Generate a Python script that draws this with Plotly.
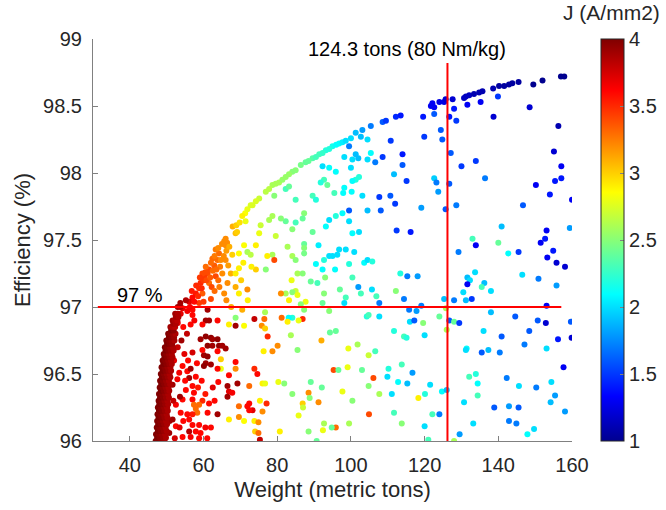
import plotly.graph_objects as go

# ---------------- data (weight [t], efficiency [%], J [A/mm2]) ----------------
frontier_points = [
    (66.0, 97.51, 3.2), (66.4, 97.48, 3.2), (67.9, 97.60, 3.1), (68.7, 97.55, 3.05), (68.9, 97.61, 3.0),
    (69.1, 97.56, 3.0), (71.3, 97.70, 2.85), (71.4, 97.64, 2.8), (71.9, 97.73, 2.8), (72.8, 97.76, 2.75),
    (73.3, 97.76, 2.75), (75.1, 97.81, 2.7), (76.9, 97.86, 2.65), (78.7, 97.91, 2.6), (80.5, 97.93, 2.6),
    (82.3, 97.97, 2.55), (84.1, 98.01, 2.5), (86.4, 98.06, 2.45), (87.7, 98.08, 2.4), (89.6, 98.11, 2.35),
    (91.4, 98.14, 2.3), (93.2, 98.17, 2.2), (95.0, 98.20, 2.15), (96.8, 98.22, 2.1), (100.0, 98.26, 2.0),
    (101.3, 98.30, 1.9), (103.1, 98.32, 1.8), (105.4, 98.35, 1.7), (108.6, 98.38, 1.6), (109.5, 98.39, 1.5),
    (112.2, 98.42, 1.45), (113.5, 98.43, 1.4), (121.7, 98.50, 1.3), (122.1, 98.52, 1.3), (122.6, 98.49, 1.3),
    (124.0, 98.53, 1.25), (125.3, 98.53, 1.25), (125.7, 98.55, 1.2), (127.6, 98.55, 1.2), (130.7, 98.56, 1.15),
    (131.2, 98.57, 1.15), (132.1, 98.58, 1.15), (133.4, 98.59, 1.1), (134.8, 98.60, 1.1), (135.7, 98.61, 1.1),
    (138.6, 98.63, 1.1), (140.2, 98.65, 1.05), (141.6, 98.65, 1.05), (142.9, 98.66, 1.05), (143.8, 98.67, 1.05),
    (145.5, 98.68, 1.05), (149.5, 98.66, 1.0), (152.0, 98.69, 1.0), (157.0, 98.72, 1.0), (157.9, 98.72, 1.0),
    (85.0, 98.02, 2.5), (88.5, 98.09, 2.4), (90.5, 98.12, 2.3), (92.3, 98.15, 2.25), (94.1, 98.18, 2.2),
    (96.0, 98.21, 2.1), (97.7, 98.23, 2.05), (98.6, 98.24, 2.0), (83.2, 97.99, 2.55), (81.4, 97.95, 2.55),
    (79.6, 97.92, 2.6), (77.8, 97.88, 2.65), (74.2, 97.79, 2.75), (70.5, 97.68, 2.9), (69.8, 97.63, 2.95),
]

upper_points = [
    (148.5, 98.49, 1.2), (138.7, 98.42, 1.2), (131.6, 98.51, 1.3), (135.2, 98.53, 1.3), (139.9, 98.57, 1.5),
    (128.0, 98.48, 1.4), (126.7, 98.42, 1.4), (128.6, 98.39, 1.5), (122.6, 98.44, 1.6), (119.6, 98.42, 1.4),
    (119.9, 98.27, 1.5), (124.4, 98.32, 1.6), (124.8, 98.25, 1.6), (127.1, 98.15, 1.6), (133.9, 98.09, 1.5),
    (130.0, 98.05, 1.5), (156.3, 98.35, 1.1), (155.1, 98.16, 1.2), (157.1, 98.05, 1.3), (157.1, 97.96, 1.4),
    (155.4, 97.94, 1.4), (150.2, 97.91, 1.3), (154.0, 97.84, 1.4), (160.0, 97.80, 1.3), (122.6, 97.96, 1.95),
    (123.2, 97.93, 1.7), (123.7, 97.86, 1.8), (126.7, 97.92, 1.6), (136.4, 97.96, 1.7), (119.1, 97.74, 1.8),
    (125.7, 97.73, 1.6), (128.6, 97.76, 1.7), (146.7, 97.76, 1.6), (140.9, 97.60, 1.9), (153.1, 97.57, 1.3),
    (159.4, 97.59, 1.8), (152.7, 97.51, 1.4), (133.0, 97.51, 2.3), (110.8, 98.24, 1.5), (108.6, 98.12, 1.5),
    (106.6, 98.08, 1.7), (114.0, 98.14, 1.4), (114.0, 98.06, 1.6), (115.1, 97.94, 1.5), (111.7, 97.99, 1.9),
    (107.7, 97.82, 1.5), (112.0, 97.77, 1.5), (108.1, 97.72, 1.6), (112.4, 97.57, 1.5), (116.2, 97.56, 1.4),
    (104.5, 97.72, 1.9), (99.5, 97.72, 1.6), (103.1, 97.83, 2.0), (102.2, 97.97, 2.2), (101.3, 97.95, 2.2),
    (100.4, 97.94, 2.1), (100.0, 98.04, 2.0), (100.4, 98.10, 2.0), (101.3, 98.14, 1.9), (102.0, 98.11, 1.9),
    (104.5, 98.10, 2.0), (105.4, 98.15, 2.1), (104.5, 98.25, 2.0), (102.7, 98.27, 1.9), (99.5, 98.20, 1.7),
    (98.2, 98.12, 2.0), (95.9, 98.01, 2.1), (94.1, 98.04, 2.1), (92.3, 98.05, 2.0), (92.7, 97.95, 2.3),
    (93.6, 97.91, 2.4), (91.8, 97.93, 2.2), (98.2, 97.89, 2.1), (97.9, 97.85, 2.1), (100.2, 97.86, 2.1),
    (95.5, 97.85, 2.3), (89.6, 97.83, 2.3), (90.5, 97.80, 2.2), (87.3, 97.70, 2.5), (86.9, 97.66, 2.4),
    (85.0, 97.63, 2.3), (82.3, 97.64, 2.4), (81.0, 97.66, 2.5), (78.7, 97.68, 2.6), (77.8, 97.65, 2.6),
    (75.5, 97.61, 2.7), (75.1, 97.55, 2.8), (79.6, 97.53, 2.7), (84.1, 97.58, 2.5), (89.6, 97.56, 2.4),
    (93.2, 97.60, 2.1), (94.1, 97.65, 2.0), (97.7, 97.70, 2.1), (95.9, 97.68, 2.2), (100.4, 97.55, 2.1),
    (102.2, 97.56, 2.0), (99.5, 97.64, 2.0), (82.3, 97.88, 2.3), (83.2, 97.90, 2.4), (79.2, 97.83, 2.5),
    (85.0, 97.80, 2.3), (110.7, 97.83, 1.6),
]

middle_points = [
    (91.2, 97.46, 2.05), (87.3, 97.47, 2.4), (87.3, 97.44, 2.5), (87.3, 97.40, 2.45), (84.1, 97.38, 2.6),
    (85.0, 97.35, 2.5), (82.8, 97.45, 2.6), (78.7, 97.39, 2.6), (77.3, 97.38, 2.9), (74.2, 97.46, 2.9),
    (74.2, 97.28, 3.0), (79.2, 97.35, 3.4), (76.9, 97.28, 2.5), (85.5, 97.25, 2.6), (86.9, 97.25, 2.5),
    (89.1, 97.19, 2.4), (90.9, 97.18, 2.3), (93.0, 97.22, 2.5), (90.5, 97.32, 2.1), (92.3, 97.28, 2.1),
    (92.7, 97.35, 2.2), (94.1, 97.38, 2.0), (95.0, 97.38, 2.0), (96.3, 97.39, 2.0), (96.8, 97.43, 2.0),
    (98.6, 97.43, 2.0), (100.9, 97.41, 2.0), (99.5, 97.32, 2.2), (95.7, 97.28, 2.1), (103.6, 97.33, 2.1),
    (104.5, 97.35, 2.0), (105.8, 97.34, 2.2), (100.4, 97.22, 2.3), (102.0, 97.15, 1.8), (102.7, 97.10, 2.3),
    (98.6, 97.07, 2.3), (98.2, 97.03, 2.0), (97.0, 97.13, 2.4), (92.7, 97.10, 2.5), (92.3, 97.03, 2.4),
    (94.1, 96.97, 2.5), (87.7, 97.04, 2.8), (86.4, 97.02, 2.5), (87.3, 96.98, 2.5), (86.9, 96.91, 3.5),
    (85.8, 96.90, 2.8), (84.1, 96.92, 2.2), (83.1, 96.92, 2.1), (81.2, 96.92, 3.3), (82.8, 96.89, 2.9),
    (85.0, 97.12, 2.7), (82.3, 97.10, 2.6), (84.1, 97.11, 2.5), (83.2, 97.05, 2.9), (81.0, 97.10, 3.2),
    (85.5, 97.09, 2.8), (83.9, 97.20, 2.8), (76.7, 96.96, 2.6), (76.5, 96.91, 3.3), (73.8, 96.91, 3.8),
    (75.8, 96.86, 3.2), (76.7, 96.84, 3.0), (77.4, 96.78, 3.5), (83.7, 96.79, 2.6), (80.1, 96.71, 3.2),
    (78.7, 96.67, 3.2), (76.3, 96.67, 2.9), (85.5, 96.68, 2.5), (92.0, 96.75, 3.1), (94.3, 96.81, 2.4),
    (95.9, 96.82, 2.4), (99.3, 96.69, 2.8), (101.8, 96.72, 2.6), (104.8, 96.64, 2.7), (106.6, 96.67, 2.3),
    (111.7, 96.82, 2.2), (114.4, 96.78, 2.3), (115.1, 96.77, 2.2), (107.7, 96.93, 2.0), (104.3, 96.93, 2.2),
    (104.8, 96.94, 2.3), (115.8, 96.98, 1.7), (116.0, 96.89, 2.0), (115.3, 97.23, 1.7), (113.4, 97.25, 2.2),
    (114.4, 97.06, 1.7), (112.2, 97.12, 2.5), (107.7, 97.03, 1.7), (105.7, 97.13, 2.0), (106.9, 97.08, 2.3),
    (74.6, 96.50, 3.6), (76.0, 96.43, 2.9), (76.7, 96.43, 2.8), (80.3, 96.44, 2.8), (81.9, 96.43, 2.5),
    (77.1, 96.28, 3.5), (76.0, 96.22, 3.2), (75.3, 96.30, 2.9), (73.3, 96.23, 3.7), (73.8, 96.15, 2.9),
    (74.9, 96.14, 3.2), (74.0, 96.07, 3.0), (74.9, 96.06, 3.3), (75.3, 96.01, 3.8), (80.7, 96.07, 2.9),
    (84.1, 96.35, 2.5), (86.9, 96.28, 3.0), (87.0, 96.25, 2.7), (88.5, 96.36, 3.2), (88.8, 96.32, 2.5),
    (89.1, 96.44, 2.4), (85.8, 96.19, 2.8), (91.2, 96.29, 3.2), (92.1, 96.40, 2.4), (95.3, 96.53, 3.4),
    (96.6, 96.53, 2.4), (99.1, 96.55, 2.8), (103.0, 96.53, 2.4), (106.1, 96.47, 3.4), (104.8, 96.41, 2.5),
    (110.2, 96.54, 2.2), (109.9, 96.48, 2.0), (112.8, 96.44, 2.1), (113.8, 96.57, 2.3), (115.3, 96.43, 1.9),
    (111.1, 96.35, 2.0), (107.7, 96.35, 2.6), (97.7, 96.37, 2.8), (100.4, 96.30, 2.5), (104.9, 96.20, 3.4),
    (111.7, 96.21, 2.3), (113.8, 96.13, 2.5), (99.5, 96.13, 2.6), (95.9, 96.10, 3.3), (94.8, 96.10, 2.4),
    (92.7, 96.13, 2.6), (92.4, 96.08, 2.8), (88.5, 96.07, 2.5), (90.7, 96.00, 2.4), (73.8, 96.54, 3.5),
]

right_points = [
    (133.9, 97.46, 1.3), (140.0, 97.48, 2.4), (129.2, 97.41, 1.7), (142.7, 97.40, 2.1), (145.5, 97.41, 1.5),
    (151.5, 97.48, 1.3), (154.9, 97.42, 1.4), (153.3, 97.37, 1.3), (155.8, 97.33, 1.2), (158.1, 97.30, 1.2),
    (118.1, 97.23, 1.8), (131.6, 97.22, 1.9), (132.3, 97.20, 2.0), (133.7, 97.26, 2.0), (131.6, 97.17, 1.3),
    (136.2, 97.18, 1.9), (135.5, 97.15, 2.3), (138.0, 97.12, 2.0), (130.5, 97.11, 2.0), (125.3, 97.06, 1.9),
    (128.0, 97.05, 1.7), (131.2, 97.05, 1.9), (132.8, 97.06, 1.5), (146.5, 97.24, 2.0), (150.9, 97.21, 1.7),
    (155.8, 97.16, 1.8), (153.1, 97.01, 1.3), (119.1, 97.01, 1.7), (117.8, 96.97, 1.8), (117.2, 96.90, 1.6),
    (119.6, 96.88, 2.5), (124.0, 96.93, 2.4), (125.8, 96.99, 2.6), (126.7, 96.90, 1.6), (128.0, 96.89, 2.4),
    (129.4, 96.88, 1.5), (126.0, 96.83, 2.6), (138.0, 96.96, 1.9), (144.6, 96.93, 1.6), (150.7, 96.90, 1.6),
    (152.9, 96.88, 1.2), (159.7, 96.89, 1.6), (148.4, 96.82, 1.6), (136.0, 96.82, 2.0), (120.0, 96.79, 2.0),
    (140.9, 96.78, 1.6), (156.2, 96.76, 1.4), (159.9, 96.77, 1.2), (131.4, 96.69, 2.1), (131.2, 96.68, 2.0),
    (135.5, 96.66, 1.6), (137.3, 96.68, 1.9), (140.4, 96.66, 1.7), (147.1, 96.72, 1.7), (153.1, 96.69, 2.0),
    (157.7, 96.55, 1.3), (116.7, 96.51, 1.8), (132.1, 96.48, 2.3), (133.9, 96.50, 2.2), (134.4, 96.43, 2.1),
    (142.3, 96.47, 1.7), (145.6, 96.41, 2.0), (150.3, 96.40, 1.7), (154.4, 96.44, 2.0), (155.4, 96.34, 1.8),
    (154.2, 96.29, 1.9), (158.1, 96.22, 1.8), (121.5, 96.42, 2.0), (120.1, 96.35, 2.2), (124.7, 96.37, 2.1),
    (126.0, 96.38, 1.9), (118.3, 96.32, 2.9), (134.4, 96.34, 2.3), (130.7, 96.29, 2.0), (138.9, 96.25, 1.6),
    (142.9, 96.26, 1.8), (145.5, 96.25, 1.6), (122.1, 96.20, 2.3), (124.0, 96.20, 1.7), (133.2, 96.13, 2.0),
    (142.9, 96.15, 1.7), (144.9, 96.13, 1.7), (149.7, 96.09, 2.0), (147.9, 96.05, 2.1), (120.0, 96.11, 2.0),
    (129.5, 96.05, 1.8), (121.0, 96.01, 2.3), (128.0, 96.00, 2.6),
]

left_points = [
    (65.6, 97.49, 3.2), (66.0, 97.46, 3.2), (64.2, 97.40, 3.3), (63.8, 97.35, 3.3), (62.9, 97.31, 3.35),
    (61.5, 97.28, 3.4), (61.1, 97.25, 3.4), (60.2, 97.23, 3.45), (59.2, 97.18, 3.5), (58.8, 97.14, 3.5),
    (57.9, 97.10, 3.55), (57.0, 97.07, 3.6), (56.1, 97.04, 3.7), (55.2, 97.05, 3.85), (54.3, 96.99, 3.7),
    (55.6, 96.97, 3.65), (57.0, 96.98, 3.6), (58.8, 97.03, 3.45), (61.1, 96.98, 3.9), (59.7, 97.10, 3.35),
    (61.5, 97.18, 3.3), (63.3, 97.23, 3.4), (65.1, 97.25, 3.2), (64.7, 97.35, 3.2), (66.7, 97.31, 3.15),
    (67.4, 97.25, 3.1), (68.7, 97.25, 2.9), (66.5, 97.18, 3.2), (65.6, 97.10, 3.2), (68.7, 97.15, 3.1),
    (69.6, 97.10, 2.9), (67.8, 97.39, 3.0), (69.6, 97.40, 2.85), (71.9, 97.41, 2.6), (72.8, 97.39, 2.65),
    (71.0, 97.46, 2.85), (69.6, 97.29, 2.9), (71.9, 97.13, 3.2), (63.3, 97.43, 3.25), (62.4, 97.36, 3.3),
    (60.6, 97.30, 3.3), (59.7, 97.25, 3.4), (68.7, 96.92, 2.5), (71.0, 96.86, 2.85), (66.9, 96.87, 2.9),
    (68.7, 96.86, 3.9), (63.8, 96.90, 3.6), (60.6, 96.90, 3.9), (61.5, 96.90, 3.9), (59.7, 96.87, 3.6),
    (57.0, 96.94, 3.6), (62.0, 97.33, 3.3), (63.0, 97.38, 3.25), (64.0, 97.44, 3.2), (65.0, 97.47, 3.2),
    (60.5, 97.26, 3.4), (58.0, 97.16, 3.5), (56.8, 97.12, 3.55), (62.5, 97.27, 3.3), (64.5, 97.30, 3.25),
    (60.0, 97.20, 3.45), (59.0, 97.22, 3.45), (59.5, 97.14, 3.5), (60.8, 97.20, 3.4), (61.8, 97.22, 3.35),
    (62.2, 97.15, 3.4), (63.5, 97.28, 3.3), (64.0, 97.20, 3.3), (65.5, 97.38, 3.2), (66.2, 97.42, 3.15),
    (67.0, 97.45, 3.1), (66.0, 97.35, 3.2), (58.5, 97.08, 3.5), (57.5, 97.04, 3.6), (56.3, 97.00, 3.65),
    (60.0, 97.04, 3.45), (62.0, 97.06, 3.4), (63.0, 97.12, 3.3), (64.3, 97.15, 3.25), (66.2, 97.05, 3.2),
    (67.5, 97.00, 3.1), (70.2, 97.20, 3.0), (70.8, 97.33, 2.9), (73.0, 97.30, 2.9), (72.0, 97.05, 2.9),
    (70.5, 96.98, 3.1),
    (60.6, 96.78, 3.95), (62.0, 96.77, 3.95), (62.4, 96.76, 3.9), (63.8, 96.76, 3.95), (61.1, 96.71, 3.95),
    (62.4, 96.71, 3.9), (64.2, 96.71, 3.95), (66.0, 96.69, 3.9), (65.1, 96.71, 3.9), (60.1, 96.64, 3.9),
    (61.1, 96.63, 3.95), (60.6, 96.58, 3.9), (60.1, 96.56, 3.95), (62.0, 96.57, 3.9), (63.8, 96.67, 3.6),
    (64.7, 96.61, 3.0), (64.7, 96.54, 2.8), (63.8, 96.54, 3.6), (68.7, 96.59, 3.6), (68.7, 96.54, 3.2),
    (66.9, 96.49, 3.6), (64.0, 96.44, 3.6), (66.5, 96.41, 3.9), (66.9, 96.37, 3.7), (69.2, 96.43, 3.9),
    (66.5, 96.33, 3.9), (67.8, 96.36, 3.65), (72.4, 96.28, 3.6), (71.9, 96.26, 3.6), (72.4, 96.23, 3.6),
    (69.6, 96.26, 3.3), (72.4, 96.41, 3.3), (63.8, 96.20, 3.9), (66.9, 96.16, 2.9), (69.6, 96.18, 3.2),
    (71.0, 96.15, 2.85), (61.1, 96.21, 3.6), (59.7, 96.30, 3.5), (57.0, 96.31, 3.6), (57.4, 96.27, 3.3),
    (57.9, 96.24, 3.3), (58.8, 96.27, 3.3), (58.3, 96.21, 3.3), (57.0, 96.20, 3.55), (55.6, 96.20, 3.6),
    (56.1, 96.16, 3.6), (57.0, 96.12, 3.6), (58.8, 96.12, 3.6), (57.9, 96.07, 3.6), (59.2, 96.06, 3.6),
    (56.1, 96.07, 3.85), (56.5, 96.03, 3.65), (58.8, 96.02, 3.6), (54.3, 96.03, 3.6), (53.8, 96.21, 3.6),
    (52.5, 96.27, 3.65), (54.3, 96.31, 3.6), (57.0, 96.41, 3.6), (57.4, 96.36, 3.6), (55.2, 96.38, 3.6),
    (56.1, 96.47, 3.9), (55.6, 96.52, 3.6), (56.5, 96.54, 3.9), (57.9, 96.48, 3.6), (54.3, 96.56, 3.6),
    (53.4, 96.51, 3.65), (52.9, 96.46, 3.65), (51.6, 96.42, 3.9), (53.6, 96.33, 3.9), (51.6, 96.16, 3.9),
    (52.5, 96.11, 3.6), (50.7, 96.06, 3.9), (50.8, 96.15, 3.9), (59.2, 96.76, 3.9), (59.7, 96.68, 3.6),
    (53.0, 96.88, 3.7), (54.5, 96.85, 3.6), (55.5, 96.80, 3.8), (56.5, 96.87, 3.6), (54.0, 96.75, 3.9),
    (57.5, 96.90, 3.65), (52.5, 96.93, 3.85), (53.8, 96.95, 3.7), (52.0, 96.60, 3.7), (53.0, 96.70, 3.8),
    (54.8, 96.65, 3.7), (55.8, 96.60, 3.6), (57.0, 96.66, 3.75), (58.2, 96.58, 3.6), (58.5, 96.40, 3.55),
    (59.5, 96.45, 3.6), (60.5, 96.35, 3.55), (61.5, 96.28, 3.6), (62.5, 96.40, 3.7), (63.0, 96.30, 3.6),
    (62.0, 96.10, 3.6), (60.5, 96.10, 3.65), (61.0, 96.02, 3.6), (53.5, 96.10, 3.7), (54.5, 96.15, 3.6),
    (55.0, 96.45, 3.6), (51.8, 96.30, 3.8), (52.2, 96.02, 3.75),
]

# dense dark-red band at the low-weight edge: efficiency of each row and weights in that row
band_efficiency = [96.00, 96.025, 96.05, 96.075, 96.10, 96.125, 96.15, 96.175, 96.20, 96.225, 96.25, 96.275,
                   96.30, 96.325, 96.35, 96.375, 96.40, 96.425, 96.45, 96.475, 96.50, 96.525, 96.55, 96.575,
                   96.60, 96.625, 96.65, 96.675, 96.70, 96.725, 96.75, 96.775, 96.80, 96.825, 96.85, 96.875,
                   96.90, 96.925, 96.95, 97.00, 97.03]
band_weights = [
    [47.0, 47.8, 48.6, 49.4], [47.4, 48.2, 49.0, 49.8], [47.1, 47.9, 48.7, 49.6], [47.6, 48.4, 49.2, 50.0],
    [47.3, 48.0, 48.9, 49.7], [47.7, 48.5, 49.3, 50.1], [47.4, 48.2, 49.0, 49.8], [47.8, 48.6, 49.4, 50.2],
    [47.5, 48.3, 49.1, 50.0], [47.9, 48.7, 49.5, 50.3], [47.6, 48.4, 49.3, 50.1], [48.0, 48.8, 49.6, 50.4],
    [47.8, 48.6, 49.4, 50.2], [48.2, 49.0, 49.8, 50.6], [47.9, 48.7, 49.6, 50.4], [48.4, 49.2, 50.0, 50.7],
    [48.1, 48.9, 49.7, 50.5], [48.5, 49.3, 50.1, 50.9], [48.2, 49.0, 49.8, 50.6], [48.7, 49.5, 50.3, 51.0],
    [48.4, 49.2, 50.0, 50.8], [48.9, 49.7, 50.5, 51.2], [48.6, 49.4, 50.2, 51.0], [49.1, 49.9, 50.7, 51.4],
    [48.9, 49.6, 50.4, 51.2], [49.4, 50.1, 50.9, 51.6], [49.2, 49.9, 50.6, 51.4], [49.7, 50.4, 51.1, 51.9],
    [49.5, 50.2, 50.9, 51.7], [50.1, 50.8, 51.5], [49.9, 50.6, 51.3, 52.1], [50.6, 51.3, 52.0],
    [50.4, 51.0, 51.7, 52.4], [51.2, 51.9], [51.0, 51.6, 52.3], [51.8, 52.5],
    [51.6, 52.2, 52.9], [52.5, 53.2], [52.3, 53.0], [53.0, 53.7], [53.7],
]
band_j = [4.0, 3.96, 3.92, 3.87]   # J by position within a row (edge -> inside)

# reference lines and labels
h_line_weight = [31.3, 157.1]
h_line_eff = [97.0, 97.0]
v_line_weight = [126.2, 126.2]
v_line_eff = [96.0, 98.82]

x_ticks = [40, 60, 80, 100, 120, 140, 160]
y_ticks = [96, 96.5, 97, 97.5, 98, 98.5, 99]
y_tick_text = ["96", "96.5", "97", "97.5", "98", "98.5", "99"]
cb_ticks = [1, 1.5, 2, 2.5, 3, 3.5, 4]
cb_tick_text = ["1", "1.5", "2", "2.5", "3", "3.5", "4"]

# ---------------- assemble ----------------
weights, effs, js = [], [], []
for group in (frontier_points, upper_points, middle_points, right_points, left_points):
    for w, e, j in group:
        weights.append(w)
        effs.append(e)
        js.append(j)
for e, row in zip(band_efficiency, band_weights):
    for k, w in enumerate(row):
        weights.append(w)
        effs.append(e)
        js.append(band_j[k] if e < 96.85 else band_j[k] - 0.1)

jet = [
    [0.0, "rgb(0,0,143)"], [0.111, "rgb(0,0,255)"], [0.365, "rgb(0,255,255)"],
    [0.619, "rgb(255,255,0)"], [0.873, "rgb(255,0,0)"], [1.0, "rgb(128,0,0)"],
]

FONT = "Liberation Sans, Arial, sans-serif"
TXT = "rgb(38,38,38)"
AX = "rgb(128,128,128)"

L, R, T, B = 92.5, 572.0, 39.3, 440.7
W, H = 666, 510

fig = go.Figure()
fig.add_trace(go.Scatter(
    x=weights, y=effs, mode="markers",
    marker=dict(
        size=6, color=js, colorscale=jet, cmin=1, cmax=4, line=dict(width=0),
        colorbar=dict(
            thickness=23, thicknessmode="pixels", len=402, lenmode="pixels",
            x=(601 - L) / (R - L), xanchor="left", xpad=0, y=0.5, yanchor="middle", ypad=0,
            tickvals=cb_ticks, ticktext=cb_tick_text, ticks="inside", ticklen=4,
            tickcolor=AX, outlinecolor=TXT, outlinewidth=1,
            tickfont=dict(family=FONT, size=20, color=TXT),
        ),
    ),
    showlegend=False, hoverinfo="skip",
))
fig.add_trace(go.Scatter(x=h_line_weight, y=h_line_eff, mode="lines",
                         line=dict(color="rgb(255,0,0)", width=2), showlegend=False, hoverinfo="skip"))
fig.add_trace(go.Scatter(x=v_line_weight, y=v_line_eff, mode="lines",
                         line=dict(color="rgb(255,0,0)", width=2), showlegend=False, hoverinfo="skip"))

fig.add_annotation(x=115.2, y=98.928, xref="x", yref="y", text="124.3 tons (80 Nm/kg)",
                   xanchor="center", yanchor="middle",
                   showarrow=False, font=dict(family=FONT, size=20, color="black"))
fig.add_annotation(x=42.8, y=97.086, xref="x", yref="y", text="97 %",
                   xanchor="center", yanchor="middle",
                   showarrow=False, font=dict(family=FONT, size=20, color="black"))
fig.add_annotation(x=(612 - L) / (R - L), y=(B - 13) / (B - T), xref="paper", yref="paper",
                   text="J (A/mm2)", xanchor="center", yanchor="middle",
                   showarrow=False, font=dict(family=FONT, size=21, color=TXT))

fig.update_layout(
    width=W, height=H,
    margin=dict(l=L, r=W - R, t=T, b=H - B, autoexpand=False),
    paper_bgcolor="white", plot_bgcolor="white",
    font=dict(family=FONT, color=TXT),
    xaxis=dict(
        range=[30, 160], tickvals=x_ticks, showgrid=False, zeroline=False,
        showline=True, linecolor=AX, linewidth=1, ticks="inside", ticklen=5, tickcolor=AX,
        tickfont=dict(family=FONT, size=20, color=TXT), ticklabelstandoff=6,
        title=dict(text="Weight (metric tons)", font=dict(family=FONT, size=22, color=TXT), standoff=6),
    ),
    yaxis=dict(
        range=[96, 99], tickvals=y_ticks, ticktext=y_tick_text, showgrid=False, zeroline=False,
        showline=True, linecolor=AX, linewidth=1, ticks="inside", ticklen=5, tickcolor=AX,
        tickfont=dict(family=FONT, size=20, color=TXT), ticklabelstandoff=6,
        title=dict(text="Efficiency (%)", font=dict(family=FONT, size=22, color=TXT), standoff=6),
    ),
)

fig.write_html("out.html")
